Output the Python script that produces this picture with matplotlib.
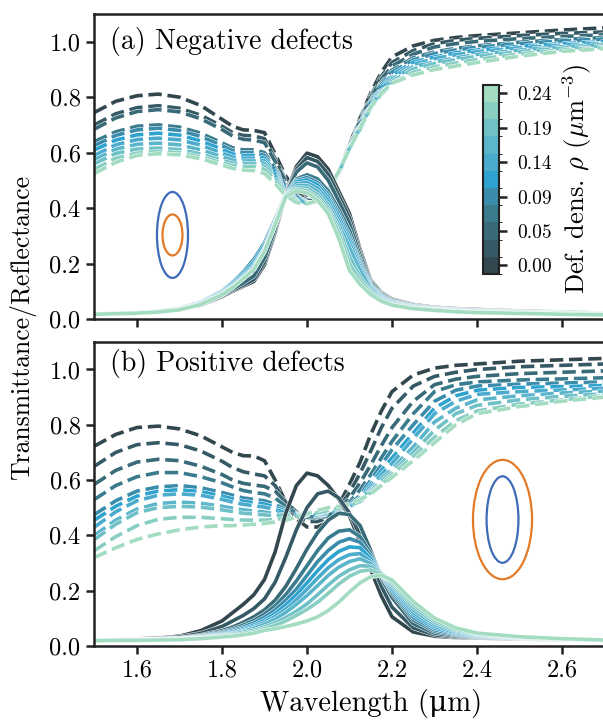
import numpy as np
import matplotlib
matplotlib.use("Agg")
import matplotlib.pyplot as plt
import matplotlib.patheffects as pe
from matplotlib.colors import ListedColormap, BoundaryNorm
from matplotlib.cm import ScalarMappable
from matplotlib.patches import Ellipse
from matplotlib.ticker import FormatStrFormatter

plt.rcParams['font.family'] = ['cmr10', 'DejaVu Serif']
plt.rcParams['mathtext.fontset'] = 'cm'
plt.rcParams['axes.formatter.use_mathtext'] = True
plt.rcParams['font.size'] = 17

# wavelength grid (um)
lam = [1.50, 1.55, 1.60, 1.65, 1.70, 1.75, 1.80, 1.825, 1.85, 1.875,
       1.90, 1.925, 1.95, 1.975, 2.00, 2.025, 2.05, 2.075, 2.10, 2.125,
       2.15, 2.175, 2.20, 2.25, 2.30, 2.35, 2.40, 2.50, 2.60, 2.70]

# defect densities (um^-3), one per curve
rho = [0.0, 0.0236, 0.0472, 0.0708, 0.0944, 0.118, 0.1416, 0.1652, 0.1888, 0.2124, 0.236]

# (a) negative defects: transmittance
T_neg = [
    [.018, .020, .022, .026, .034, .050, .080, .100, .118, .135, .195, .310, .450, .550, .598, .585, .540, .460, .380, .250, .140, .095, .072, .052, .042, .037, .034, .029, .025, .021],
    [.018, .020, .022, .026, .034, .051, .082, .103, .122, .142, .205, .315, .448, .540, .582, .568, .522, .445, .365, .240, .136, .092, .070, .050, .040, .035, .032, .028, .024, .020],
    [.018, .020, .022, .027, .035, .053, .086, .108, .130, .155, .220, .325, .447, .530, .563, .548, .500, .425, .345, .228, .131, .089, .068, .049, .039, .034, .031, .027, .023, .020],
    [.018, .020, .022, .027, .036, .056, .092, .118, .148, .180, .245, .340, .445, .505, .520, .505, .462, .395, .320, .214, .125, .085, .065, .047, .038, .033, .030, .026, .022, .019],
    [.018, .020, .022, .028, .038, .060, .100, .132, .170, .215, .275, .360, .450, .500, .510, .492, .448, .380, .300, .203, .120, .082, .063, .045, .037, .032, .029, .025, .021, .019],
    [.018, .020, .022, .028, .038, .060, .100, .130, .165, .205, .265, .355, .447, .495, .502, .483, .438, .368, .288, .195, .116, .080, .061, .044, .036, .031, .028, .024, .021, .019],
    [.018, .020, .022, .028, .037, .058, .097, .125, .158, .195, .255, .348, .445, .488, .492, .472, .427, .355, .275, .186, .112, .077, .059, .043, .035, .030, .027, .024, .021, .018],
    [.018, .020, .022, .027, .036, .057, .094, .120, .152, .188, .250, .345, .445, .480, .482, .460, .412, .340, .258, .175, .107, .074, .057, .041, .034, .029, .026, .023, .020, .018],
    [.018, .019, .021, .026, .035, .055, .091, .117, .148, .183, .247, .343, .445, .473, .472, .448, .400, .325, .225, .150, .100, .071, .055, .040, .033, .028, .025, .022, .019, .017],
    [.017, .019, .021, .026, .034, .054, .089, .115, .146, .180, .245, .342, .445, .468, .463, .437, .390, .310, .200, .138, .095, .068, .052, .039, .032, .027, .024, .021, .018, .016],
    [.017, .019, .021, .025, .033, .052, .087, .113, .145, .178, .243, .340, .440, .462, .455, .428, .380, .290, .175, .125, .088, .064, .050, .037, .031, .026, .023, .020, .017, .015],
]

# (a) negative defects: reflectance
R_neg = [
    [.745, .785, .805, .811, .800, .770, .720, .695, .682, .680, .672, .595, .515, .465, .435, .425, .455, .530, .630, .725, .815, .890, .945, .985, 1.005, 1.015, 1.022, 1.032, 1.042, 1.050],
    [.700, .740, .762, .769, .760, .735, .695, .672, .662, .660, .650, .578, .500, .455, .430, .425, .455, .530, .628, .720, .805, .875, .925, .968, .993, 1.005, 1.012, 1.022, 1.030, 1.035],
    [.685, .725, .748, .755, .747, .722, .683, .660, .648, .645, .636, .568, .495, .450, .428, .424, .455, .528, .625, .715, .798, .865, .912, .955, .981, .993, 1.001, 1.011, 1.019, 1.025],
    [.640, .675, .695, .700, .692, .670, .635, .617, .610, .610, .600, .545, .480, .442, .424, .424, .455, .527, .622, .708, .788, .852, .898, .942, .963, .976, .985, .998, 1.008, 1.015],
    [.625, .662, .682, .688, .680, .658, .625, .607, .600, .600, .590, .538, .477, .440, .422, .424, .456, .527, .620, .703, .782, .845, .890, .935, .957, .970, .980, .993, 1.003, 1.010],
    [.610, .645, .664, .670, .663, .642, .612, .595, .590, .590, .580, .532, .472, .437, .420, .423, .456, .527, .618, .698, .775, .837, .880, .926, .945, .960, .970, .983, .993, 1.000],
    [.590, .628, .647, .652, .646, .627, .598, .584, .580, .580, .570, .525, .468, .434, .419, .423, .457, .527, .617, .694, .770, .830, .872, .918, .939, .953, .964, .978, .988, .995],
    [.575, .612, .630, .634, .628, .610, .585, .573, .570, .570, .561, .518, .464, .431, .418, .423, .458, .528, .616, .690, .765, .823, .865, .910, .927, .942, .954, .970, .982, .990],
    [.560, .597, .613, .616, .611, .595, .572, .562, .560, .560, .551, .511, .460, .428, .417, .424, .459, .529, .615, .686, .760, .815, .857, .902, .921, .935, .947, .964, .977, .985],
    [.540, .580, .598, .604, .600, .585, .563, .553, .550, .550, .540, .502, .454, .425, .416, .425, .461, .530, .614, .683, .762, .810, .850, .890, .909, .923, .936, .956, .970, .980],
    [.525, .565, .590, .596, .592, .578, .555, .543, .537, .535, .525, .488, .445, .420, .415, .428, .465, .533, .613, .690, .765, .815, .850, .880, .900, .912, .925, .948, .965, .975],
]

# (b) positive defects: transmittance
T_pos = [
    [.020, .022, .025, .028, .035, .055, .090, .120, .150, .185, .240, .340, .480, .580, .625, .615, .580, .530, .470, .375, .275, .180, .105, .050, .035, .030, .028, .025, .022, .020],
    [.020, .021, .023, .026, .032, .045, .070, .090, .110, .135, .170, .230, .320, .420, .500, .550, .560, .535, .480, .400, .310, .215, .140, .065, .040, .032, .029, .025, .022, .020],
    [.020, .021, .022, .024, .028, .038, .055, .068, .085, .105, .130, .165, .215, .280, .350, .410, .455, .480, .475, .435, .345, .245, .175, .080, .046, .035, .030, .026, .022, .020],
    [.020, .021, .022, .024, .027, .035, .050, .060, .075, .092, .115, .145, .185, .235, .290, .345, .390, .415, .420, .395, .335, .255, .190, .094, .052, .039, .032, .027, .023, .020],
    [.020, .021, .022, .023, .026, .033, .046, .055, .068, .083, .103, .130, .165, .205, .255, .305, .345, .375, .388, .375, .325, .258, .198, .103, .058, .042, .034, .028, .023, .020],
    [.019, .020, .021, .023, .025, .031, .043, .051, .062, .075, .093, .117, .148, .185, .228, .272, .312, .342, .358, .355, .315, .260, .205, .112, .064, .045, .036, .028, .023, .020],
    [.019, .020, .021, .022, .024, .030, .040, .047, .057, .069, .085, .106, .133, .166, .205, .245, .283, .312, .330, .334, .305, .262, .213, .120, .070, .048, .038, .029, .024, .020],
    [.019, .020, .021, .022, .024, .029, .038, .044, .053, .064, .078, .097, .121, .150, .182, .218, .255, .285, .305, .315, .298, .263, .220, .130, .077, .052, .040, .030, .024, .020],
    [.019, .020, .021, .022, .023, .028, .036, .041, .049, .057, .068, .083, .102, .125, .152, .185, .220, .252, .275, .290, .288, .262, .226, .140, .085, .056, .042, .031, .025, .020],
    [.019, .020, .020, .021, .023, .027, .034, .038, .044, .051, .062, .074, .090, .110, .132, .158, .190, .224, .252, .270, .275, .260, .232, .150, .092, .060, .044, .032, .025, .021],
    [.019, .020, .020, .021, .022, .026, .032, .035, .040, .046, .056, .062, .070, .079, .090, .105, .128, .158, .195, .228, .250, .255, .238, .160, .100, .065, .046, .033, .026, .021],
]

# (b) positive defects: reflectance
R_pos = [
    [.723, .765, .790, .795, .785, .760, .720, .700, .688, .687, .670, .600, .520, .460, .430, .430, .450, .510, .585, .665, .765, .850, .920, .980, 1.005, 1.015, 1.020, 1.030, 1.035, 1.040],
    [.650, .700, .728, .735, .728, .705, .668, .645, .630, .622, .615, .580, .520, .470, .450, .450, .465, .500, .555, .625, .705, .790, .860, .940, .975, .990, 1.000, 1.010, 1.015, 1.020],
    [.585, .635, .665, .675, .670, .650, .620, .600, .588, .582, .577, .560, .520, .485, .465, .462, .470, .495, .535, .590, .655, .725, .790, .885, .945, .965, .975, .985, .990, .995],
    [.530, .580, .612, .627, .627, .612, .590, .575, .562, .555, .550, .535, .505, .480, .468, .466, .472, .490, .520, .565, .620, .680, .740, .840, .920, .945, .955, .962, .966, .970],
    [.475, .525, .560, .575, .580, .572, .555, .545, .535, .530, .525, .512, .492, .478, .470, .470, .475, .488, .510, .545, .600, .655, .710, .800, .885, .925, .940, .947, .951, .955],
    [.455, .505, .542, .560, .565, .558, .542, .532, .523, .518, .513, .502, .487, .476, .472, .472, .477, .487, .505, .535, .585, .635, .680, .770, .860, .905, .925, .935, .938, .942],
    [.430, .485, .525, .545, .550, .545, .530, .520, .512, .507, .502, .493, .482, .476, .474, .474, .478, .487, .502, .528, .575, .620, .660, .750, .840, .885, .910, .920, .926, .932],
    [.400, .455, .495, .515, .520, .516, .505, .498, .492, .488, .484, .478, .474, .474, .476, .478, .482, .490, .503, .525, .565, .605, .640, .720, .810, .860, .890, .905, .915, .922],
    [.385, .440, .482, .500, .505, .502, .492, .486, .480, .477, .474, .471, .470, .472, .476, .480, .486, .494, .506, .525, .560, .595, .630, .700, .780, .840, .870, .890, .903, .912],
    [.345, .395, .435, .458, .465, .465, .460, .457, .455, .455, .455, .457, .462, .468, .474, .482, .490, .498, .508, .522, .555, .585, .620, .685, .755, .815, .850, .875, .890, .905],
    [.320, .355, .385, .405, .420, .430, .435, .435, .437, .440, .443, .448, .455, .465, .478, .490, .500, .505, .512, .530, .550, .580, .610, .670, .735, .800, .840, .866, .885, .900],
]

# one colour per density, dark slate -> blue -> mint
colors = ['#33474f', '#355a65', '#386a78', '#3a7b8d', '#3b8cab', '#2ea3cf',
          '#4aabcd', '#5bb6cb', '#70c1c7', '#88cec3', '#a3dcc0']
cmap = ListedColormap(colors)

LW = 2.6
outline = [pe.Stroke(linewidth=LW + 0.7, foreground='white'), pe.Normal()]


def style_axes(ax):
    # thick frame, outward ticks, fixed limits
    ax.set_xlim(1.5, 2.8)
    ax.set_ylim(0, 1.1)
    ax.set_xticks([1.6, 1.8, 2.0, 2.2, 2.4, 2.6])
    ax.set_yticks([0.0, 0.2, 0.4, 0.6, 0.8, 1.0])
    ax.xaxis.set_major_formatter(FormatStrFormatter('%.1f'))
    ax.yaxis.set_major_formatter(FormatStrFormatter('%.1f'))
    for s in ax.spines.values():
        s.set_linewidth(1.8)
        s.set_color('#222222')
    ax.tick_params(direction='out', length=6, width=1.8, color='#222222',
                   labelsize=17.5, pad=4)


def draw_panel(ax, T, R, label, label_y):
    for k in range(len(rho)):
        ax.plot(lam, R[k], '--', color=colors[k], lw=LW, path_effects=outline,
                dash_joinstyle='round')
    for k in range(len(rho)):
        ax.plot(lam, T[k], '-', color=colors[k], lw=LW, path_effects=outline,
                solid_joinstyle='round')
    ax.text(0.028, label_y, label, transform=ax.transAxes, va='center',
            fontsize=20)
    style_axes(ax)


fig = plt.figure(figsize=(6.03, 7.2), dpi=100)
ax_a = fig.add_axes([0.1567, 0.557, 0.9163, 0.4236])
ax_b = fig.add_axes([0.1567, 0.103, 0.9163, 0.4222])

draw_panel(ax_a, T_neg, R_neg, '(a) Negative defects', 0.911)
draw_panel(ax_b, T_pos, R_pos, '(b) Positive defects', 0.928)
ax_a.tick_params(labelbottom=False)

blue = '#3f6cb8'
orange = '#e27a27'
# particle sketches
ax_a.add_patch(Ellipse((1.6835, 0.303), 0.073, 0.31, fill=False, ec=blue, lw=1.6))
ax_a.add_patch(Ellipse((1.6835, 0.303), 0.047, 0.148, fill=False, ec=orange, lw=1.6))
ax_b.add_patch(Ellipse((2.46, 0.457), 0.139, 0.432, fill=False, ec=orange, lw=1.6))
ax_b.add_patch(Ellipse((2.46, 0.457), 0.075, 0.313, fill=False, ec=blue, lw=1.6))

ax_b.set_xlabel('Wavelength (\u03bcm)', fontsize=20.5, labelpad=5)
fig.text(0.037, 0.545, 'Transmittance/Reflectance', rotation=90,
         ha='center', va='center', fontsize=18.5)

# discrete colourbar inside panel (a)
cax = ax_a.inset_axes([0.703, 0.1475, 0.029, 0.62])
norm = BoundaryNorm(np.arange(len(rho) + 1) - 0.5, len(rho))
sm = ScalarMappable(norm=norm, cmap=cmap)
ticks = [0, 2, 4, 6, 8, 10]
cb = fig.colorbar(sm, cax=cax, ticks=ticks)
cb.set_ticklabels(['%.2f' % rho[i] for i in ticks])
cb.outline.set_linewidth(1.5)
cb.outline.set_edgecolor('#222222')
cb.ax.tick_params(length=6, width=1.8, labelsize=14, color='#222222', pad=7)
cb.set_label(r'Def. dens. $\rho$ ($\mu$m$^{-3}$)', fontsize=19, labelpad=6)

fig.savefig('out.png', dpi=100)
